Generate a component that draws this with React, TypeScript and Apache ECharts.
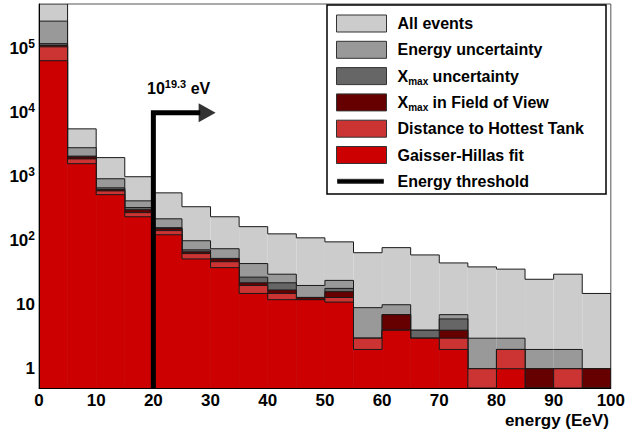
import React, { useEffect, useRef } from 'react';
import * as echarts from 'echarts';

// ---- data ----
const BIN_STARTS = [0, 5, 10, 15, 20, 25, 30, 35, 40, 45, 50, 55, 60, 65, 70, 75, 80, 85, 90, 95];
const BIN_WIDTH = 5;

const ALL_EVENTS = [500000, 5600, 1990, 1000, 560, 340, 237, 166, 128, 111, 96, 65, 78, 60, 45, 39, 36, 25, 30, 15];
const ENERGY_UNC = [270000, 2840, 930, 420, 220, 100, 75, 44, 30, 20, 24, 9, 10, 4, 7, 3, 3, 2, 2, 1];
const XMAX_UNC = [120000, 2100, 670, 330, 160, 72, 53, 27, 22, 13, 18, 3, 7, 4, 6, 1, 2, 1, 1, 1];
const XMAX_FOV = [113000, 2050, 630, 305, 155, 67, 52, 22, 17, 13, 16, 3, 7, 3, 4, 1, 2, 1, 1, 1];
const DIST_TANK = [107000, 1900, 600, 275, 144, 63, 47, 20, 15, 12, 13, 3, 4, 3, 3, 1, 2, 0, 1, 0];
const GH_FIT = [65000, 1600, 525, 237, 124, 52, 38, 15, 12, 12, 11, 2, 4, 3, 2, 0, 1, 0, 0, 0];

const SERIES_NAMES = [
  'All events',
  'Energy uncertainty',
  'Xmax uncertainty',
  'Xmax in Field of View',
  'Distance to Hottest Tank',
  'Gaisser-Hillas fit',
];
const THRESHOLD_NAME = 'Energy threshold';
const THRESHOLD_ENERGY = 20; // EeV
const THRESHOLD_LEVEL = 10000;
const ARROW_LINE_END = 28.2;
const ARROW_HEAD_AT = 29.4;

const Y_MIN = 0.5;
const Y_MAX = 500000;

// ---- styles ----
const COLORS = ['#cccccc', '#999999', '#666666', '#660000', '#cc3333', '#cc0000'];
const OUTLINE = '#1a1a1a';
const FONT = "'Liberation Sans', Arial, Helvetica, sans-serif";

const HIST_VALUES = [ALL_EVENTS, ENERGY_UNC, XMAX_UNC, XMAX_FOV, DIST_TANK, GH_FIT];

function histData(vals: number[]) {
  return BIN_STARTS.map((x0, i) => [
    x0,
    x0 + BIN_WIDTH,
    vals[i],
    i > 0 ? vals[i - 1] : 0,
    i === vals.length - 1 ? 1 : 0,
  ]);
}

function yLabel(value: number) {
  const lg = Math.log10(value);
  const e = Math.round(lg);
  if (Math.abs(lg - e) > 1e-6) return '';
  if (e === 0) return '1';
  if (e === 1) return '10';
  return '10{sup|' + e + '}';
}

export default function App() {
  const ref = useRef<HTMLDivElement>(null);

  useEffect(() => {
    if (!ref.current) return;
    const chart = echarts.init(ref.current, null, { renderer: 'svg' });

    const histSeries = HIST_VALUES.map((vals, k) => {
      const color = COLORS[k];
      return {
        type: 'custom',
        name: SERIES_NAMES[k],
        clip: true,
        z: 2 + k * 0.01,
        itemStyle: { color },
        encode: { x: [0, 1], y: 2 },
        data: histData(vals),
        renderItem: (params: any, api: any) => {
          const x0 = api.value(0) as number;
          const x1 = api.value(1) as number;
          const v = api.value(2) as number;
          const prev = api.value(3) as number;
          const last = api.value(4) as number;
          const top = v > 0 ? v : Y_MIN;
          const prevTop = prev > 0 ? prev : Y_MIN;
          const tl = api.coord([x0, top]);
          const tr = api.coord([x1, top]);
          const br = api.coord([x1, Y_MIN]);
          const pl = api.coord([x0, prevTop]);
          const children: any[] = [];
          if (v > 0) {
            children.push({
              type: 'rect',
              shape: { x: tl[0], y: tl[1], width: br[0] - tl[0], height: br[1] - tl[1] },
              style: { fill: color },
            });
          }
          children.push({
            type: 'polyline',
            shape: { points: [pl, tl, tr] },
            style: { stroke: OUTLINE, lineWidth: 1, fill: null },
          });
          if (last) {
            children.push({
              type: 'line',
              shape: { x1: tr[0], y1: tr[1], x2: br[0], y2: br[1] },
              style: { stroke: OUTLINE, lineWidth: 1 },
            });
          }
          return { type: 'group', children };
        },
      };
    });

    const legendData: any[] = SERIES_NAMES.map((n) => ({ name: n, icon: 'rect' }));
    legendData.push({
      name: THRESHOLD_NAME,
      icon: 'path://M0,0 M1,6.5 L47,6.5 L47,10.5 L1,10.5 Z M50,17',
    });

    const option: any = {
      animation: false,
      textStyle: { fontFamily: FONT },
      grid: {
        left: 39,
        right: 15,
        top: 4,
        bottom: 44,
        show: true,
        borderColor: '#555',
        borderWidth: 1,
        backgroundColor: 'transparent',
      },
      xAxis: {
        type: 'value',
        min: 0,
        max: 100,
        interval: 10,
        z: 10,
        name: 'energy (EeV)',
        nameLocation: 'end',
        nameGap: -2,
        nameTextStyle: {
          fontFamily: FONT,
          fontWeight: 'bold',
          fontSize: 17,
          color: '#000',
          align: 'right',
          verticalAlign: 'top',
          padding: [24, 0, 0, 0],
        },
        axisLine: { show: true, lineStyle: { color: '#000', width: 1 } },
        axisTick: { show: false },
        splitLine: { show: false },
        axisLabel: {
          fontFamily: FONT,
          fontWeight: 'bold',
          fontSize: 17,
          color: '#000',
          margin: 4,
        },
      },
      yAxis: {
        type: 'log',
        logBase: 10,
        min: Y_MIN,
        max: Y_MAX,
        z: 10,
        axisLine: { show: true, lineStyle: { color: '#000', width: 1 } },
        axisTick: { show: false },
        splitLine: { show: false },
        axisLabel: {
          showMinLabel: false,
          showMaxLabel: false,
          fontFamily: FONT,
          fontWeight: 'bold',
          fontSize: 17,
          lineHeight: 22,
          color: '#000',
          margin: 4,
          formatter: yLabel,
          rich: {
            sup: {
              fontFamily: FONT,
              fontWeight: 'bold',
              fontSize: 12,
              lineHeight: 12,
              verticalAlign: 'top',
              color: '#000',
            },
          },
        },
      },
      legend: {
        orient: 'vertical',
        left: 336,
        top: 13.5,
        padding: 0,
        itemWidth: 50,
        itemHeight: 17,
        itemGap: 6.3,
        selectedMode: false,
        data: legendData,
        itemStyle: { borderColor: '#333', borderWidth: 1 },
        formatter: (name: string) => name.replace('Xmax', 'X{sub|max}'),
        textStyle: {
          fontFamily: FONT,
          fontWeight: 'bold',
          fontSize: 16,
          lineHeight: 20,
          color: '#000',
          padding: [0, 0, 0, 6],
          rich: {
            sub: {
              fontFamily: FONT,
              fontWeight: 'bold',
              fontSize: 10,
              lineHeight: 10,
              verticalAlign: 'bottom',
              color: '#000',
            },
          },
        },
      },
      graphic: [
        {
          type: 'rect',
          shape: { x: 327, y: 5, width: 279, height: 189 },
          style: { fill: 'none', stroke: '#000', lineWidth: 1.5 },
          z: 5,
        },
        {
          type: 'text',
          x: 147,
          y: 88,
          z: 20,
          style: {
            text: '10{sup|19.3} eV',
            fontFamily: FONT,
            fontWeight: 'bold',
            fontSize: 16,
            fill: '#000',
            verticalAlign: 'middle',
            rich: {
              sup: {
                fontFamily: FONT,
                fontWeight: 'bold',
                fontSize: 11,
                lineHeight: 11,
                verticalAlign: 'top',
                fill: '#000',
              },
            },
            lineHeight: 20,
          },
        },
      ],
      series: [
        ...histSeries,
        {
          type: 'line',
          name: THRESHOLD_NAME,
          z: 8,
          symbol: 'none',
          color: '#000',
          itemStyle: { color: '#000' },
          lineStyle: { color: '#000', width: 5, join: 'miter', cap: 'butt' },
          data: [
            [THRESHOLD_ENERGY, Y_MIN],
            [THRESHOLD_ENERGY, THRESHOLD_LEVEL],
            [ARROW_LINE_END, THRESHOLD_LEVEL],
          ],
        },
        {
          type: 'scatter',
          name: 'arrowhead',
          z: 8,
          symbol: 'triangle',
          symbolRotate: -90,
          symbolSize: [19, 17],
          itemStyle: { color: '#000' },
          data: [[ARROW_HEAD_AT, THRESHOLD_LEVEL]],
        },
      ],
    };

    chart.setOption(option);
    return () => chart.dispose();
  }, []);

  return (
    <div
      ref={ref}
      style={{ position: 'fixed', left: 0, top: 0, width: 628, height: 432, background: '#fff' }}
    />
  );
}
